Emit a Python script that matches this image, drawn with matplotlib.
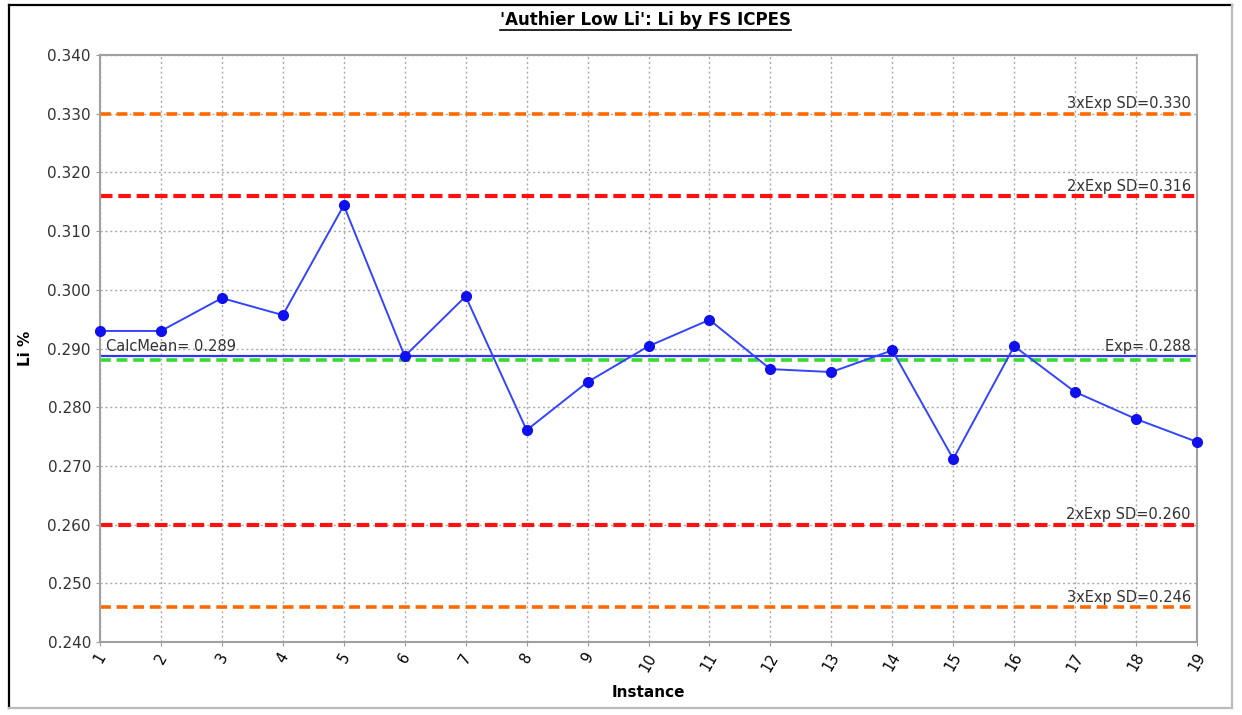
import matplotlib
matplotlib.use("Agg")
import matplotlib.pyplot as plt
from matplotlib.lines import Line2D

instances = list(range(1, 20))
li_values = [0.2930, 0.2930, 0.2986, 0.2957, 0.3144, 0.2887, 0.2989, 0.2761, 0.2843,
             0.2904, 0.2949, 0.2865, 0.2860, 0.2897, 0.2712, 0.2904, 0.2826, 0.2780, 0.2741]
calc_mean = 0.2887
exp_value = 0.288
sd2_hi, sd2_lo = 0.316, 0.260
sd3_hi, sd3_lo = 0.330, 0.246

fig = plt.figure(figsize=(12.42, 7.15), dpi=100)
ax = fig.add_axes([0.0805, 0.102, 0.8833, 0.821])

# control limit lines
ax.axhline(sd3_hi, color="#ff6a00", lw=2.6, dashes=(3, 1.6))
ax.axhline(sd3_lo, color="#ff6a00", lw=2.6, dashes=(3, 1.6))
ax.axhline(sd2_hi, color="#ff1111", lw=3.0, dashes=(3, 1.4))
ax.axhline(sd2_lo, color="#ff1111", lw=3.0, dashes=(3, 1.4))
ax.axhline(exp_value, color="#33dd33", lw=2.6, dashes=(3, 1.6))
ax.axhline(calc_mean, color="#3333ff", lw=1.6)

ax.plot(instances, li_values, color="#3344ff", lw=1.4, marker="o", ms=7,
        markerfacecolor="#1010ee", markeredgecolor="#1010ee", clip_on=False, zorder=5)

lbl = dict(fontsize=10.5, color="#333333")
ax.text(18.9, sd3_hi + 0.0004, "3xExp SD=0.330", ha="right", va="bottom", **lbl)
ax.text(18.9, sd2_hi + 0.0004, "2xExp SD=0.316", ha="right", va="bottom", **lbl)
ax.text(18.9, sd2_lo + 0.0004, "2xExp SD=0.260", ha="right", va="bottom", **lbl)
ax.text(18.9, sd3_lo + 0.0004, "3xExp SD=0.246", ha="right", va="bottom", **lbl)
ax.text(18.9, calc_mean + 0.0003, "Exp= 0.288", ha="right", va="bottom", **lbl)
ax.text(1.1, calc_mean + 0.0003, "CalcMean= 0.289", ha="left", va="bottom", **lbl)

ax.set_xlim(1, 19)
ax.set_ylim(0.240, 0.340)
ax.set_xticks(instances)
ax.set_xticklabels([str(i) for i in instances], rotation=60, fontsize=10.5)
ax.set_yticks([0.240 + 0.01 * i for i in range(11)])
ax.set_yticklabels(["%.3f" % (0.240 + 0.01 * i) for i in range(11)], fontsize=11, color="#333333")
ax.tick_params(axis="both", length=3, color="#999999")
ax.tick_params(axis="x", pad=3)
ax.grid(True, color="#aaaaaa", linestyle=(0, (1.5, 2)), lw=1)
for s in ax.spines.values():
    s.set_color("#a0a0a0")
    s.set_linewidth(1.5)

ax.set_xlabel("Instance", fontsize=11, fontweight="bold", labelpad=8)
ax.set_ylabel("Li %", fontsize=11, fontweight="bold", labelpad=10)

title = fig.text(0.5195, 0.972, "'Authier Low Li': Li by FS ICPES", ha="center", va="center",
                 fontsize=12, fontweight="bold")

# underline the title
fig.canvas.draw()
bb = title.get_window_extent()
W, H = fig.bbox.width, fig.bbox.height
fig.add_artist(Line2D([bb.x0 / W, bb.x1 / W], [(bb.y0 - 1) / H] * 2, color="black", lw=1.2,
                      transform=fig.transFigure))

# outer frame
fig.add_artist(Line2D([0.007, 0.007], [0.01, 0.993], color="black", lw=1.6, transform=fig.transFigure))
fig.add_artist(Line2D([0.007, 0.992], [0.993, 0.993], color="black", lw=1.6, transform=fig.transFigure))
fig.add_artist(Line2D([0.992, 0.992], [0.01, 0.993], color="#bbbbbb", lw=1.6, transform=fig.transFigure))
fig.add_artist(Line2D([0.007, 0.992], [0.01, 0.01], color="#bbbbbb", lw=1.6, transform=fig.transFigure))

fig.savefig("out.png", dpi=100)
